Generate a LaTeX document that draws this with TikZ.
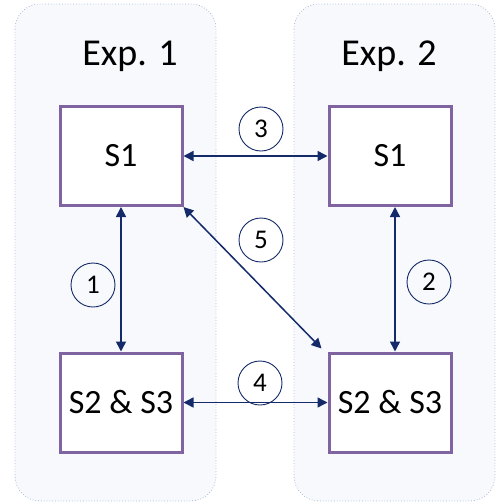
\documentclass[tikz,border=0pt]{standalone}
\usepackage{fontspec}
\setmainfont{Carlito}
\usetikzlibrary{arrows.meta}
\definecolor{navy}{RGB}{20,42,105}
\definecolor{boxpurple}{RGB}{128,100,162}
\definecolor{panelfill}{RGB}{247,249,252}
\definecolor{paneledge}{RGB}{170,188,215}
\tikzset{
  panel/.style={draw=paneledge, fill=panelfill, line width=0.8pt, dotted, rounded corners=25pt},
  stagebox/.style={draw=boxpurple, fill=white, line width=3pt, minimum width=122pt, minimum height=99pt, inner sep=0pt, font=\fontsize{34}{40}\selectfont},
  exptitle/.style={font=\fontsize{38}{44}\selectfont, inner sep=0pt},
  numcircle/.style={draw=navy, circle, line width=0.9pt, minimum size=44pt, inner sep=0pt, font=\fontsize{27}{32}\selectfont},
  link/.style={draw=navy, line width=1.5pt, {Triangle[length=10pt,width=10pt]}-{Triangle[length=10pt,width=10pt]}}
}
\begin{document}
\begin{tikzpicture}[x=1pt,y=-1pt]
  \useasboundingbox (0,0) rectangle (499,504);
  % experiment panels
  \path[panel] (15,4) rectangle (216,501);
  \path[panel] (294,4) rectangle (495,501);
  \node[exptitle] (t1) at (130,56) {Exp. 1};
  \node[exptitle] (t2) at (389,56) {Exp. 2};
  % stages
  \node[stagebox] (s1a) at (121,156) {S1};
  \node[stagebox] (s1b) at (390,156) {S1};
  \node[stagebox] (s23a) at (121,402.5) {S2 \& S3};
  \node[stagebox] (s23b) at (390,402.5) {S2 \& S3};
  % comparisons
  \draw[link] (s1a.south) -- (s23a.north);
  \draw[link] ([xshift=5pt]s1b.south) -- ([xshift=5pt]s23b.north);
  \draw[link] (s1a.east) -- (s1b.west);
  \draw[link] (s23a.east) -- (s23b.west);
  \draw[link] (s1a.south east) -- ([xshift=-6pt,yshift=3pt]s23b.north west);
  % labels
  \node[numcircle] (n1) at (93,285) {1};
  \node[numcircle] (n2) at (429,282) {2};
  \node[numcircle] (n3) at (261,129) {3};
  \node[numcircle] (n4) at (260,383) {4};
  \node[numcircle] (n5) at (261,240) {5};
\end{tikzpicture}
\end{document}
